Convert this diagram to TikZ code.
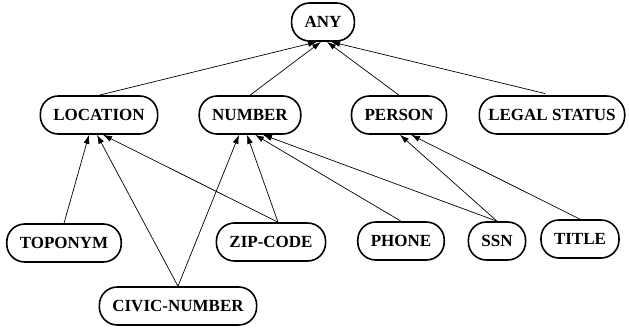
\documentclass[tikz,border=0pt]{standalone}
\usepackage{fontspec}
\setmainfont{Liberation Serif}
\usepackage{tikz}
\usetikzlibrary{positioning,arrows.meta}

\begin{document}
\begin{tikzpicture}[x=1pt, y=-1pt, font=\fontsize{17}{19}\selectfont\bfseries,
		cls/.style={draw, line width=1.6pt, rounded corners=18pt, minimum height=38pt, inner xsep=13pt},
		isa/.style={-{Latex[length=9pt,width=6pt]}, line width=0.7pt}]
		\useasboundingbox (0,0) rectangle (629,330);
		% top
		\node[cls] (any) at (323,22) {ANY};
		% second level
		\node[cls] (location) at (99,115) {LOCATION};
		\node[cls] (number) at (250,115) {NUMBER};
		\node[cls] (person) at (399,115) {PERSON};
		\node[cls, inner xsep=9pt] (legal) at (552,115) {LEGAL STATUS};
		% leaves
		\node[cls] (toponym) at (64,243) {TOPONYM};
		\node[cls] (zip) at (271,242) {ZIP-CODE};
		\node[cls] (phone) at (401,241) {PHONE};
		\node[cls] (ssn) at (497,241) {SSN};
		\node[cls] (title) at (580,239) {TITLE};
		\node[cls] (civic) at (178,306) {CIVIC-NUMBER};

		\draw[isa] (location.north) -- ([xshift=-6pt]any.south);
		\draw[isa] (number.north) -- ([xshift=-2pt]any.south);
		\draw[isa] (person.north) -- ([xshift=4pt]any.south);
		\draw[isa, shorten <=7pt] (legal.north) -- ([xshift=8pt]any.south);

		\draw[isa] (toponym.north) -- ([xshift=-10pt]location.south);
		\draw[isa] (civic.north) -- ([xshift=-2pt]location.south);
		\draw[isa] ([xshift=7pt]zip.north) -- ([xshift=4pt]location.south);

		\draw[isa] (civic.north) -- ([xshift=-11pt]number.south);
		\draw[isa] ([xshift=7pt]zip.north) -- ([xshift=-3pt]number.south);
		\draw[isa] (phone.north) -- ([xshift=5pt]number.south);
		\draw[isa] (ssn.north) -- ([xshift=13pt]number.south);

		\draw[isa] (ssn.north) -- ([xshift=1pt]person.south);
		\draw[isa] (title.north) -- ([xshift=12pt]person.south);
	\end{tikzpicture}
\end{document}
